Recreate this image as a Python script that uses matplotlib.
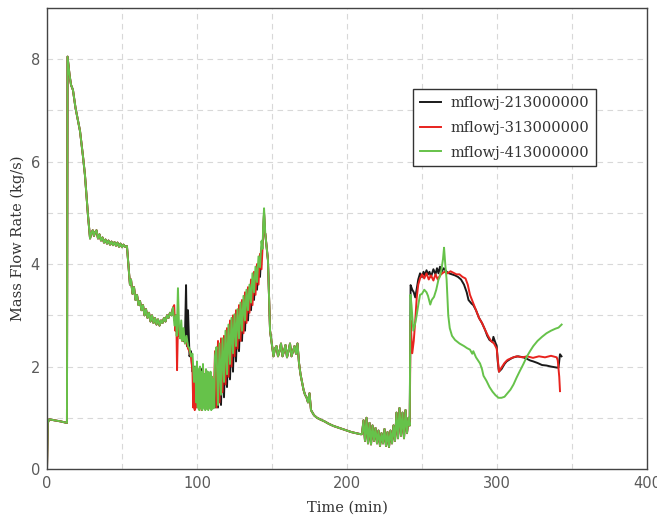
import numpy as np
import matplotlib
matplotlib.use("Agg")
import matplotlib.pyplot as plt
from matplotlib.ticker import MultipleLocator

labels = ["mflowj-213000000", "mflowj-313000000", "mflowj-413000000"]
colors = ["#1a1a1a", "#e8231e", "#66c24a"]

# ---- common start (0 - 84 min) ----
t_start = [0, 0.5, 1.5, 5, 9, 13.3, 13.7, 15, 16, 17.3, 19, 22, 24, 25.3, 27.3, 28.7,
           29.5, 30.5, 31.3, 32, 33, 34, 35, 36, 37, 38, 39, 40, 41, 42, 43, 44, 45, 46,
           47, 48, 49, 50, 51, 52, 53.3, 54.5, 55.3, 56, 57, 58, 59, 60, 61, 62, 63, 64,
           65, 66, 67, 68, 69, 70, 71, 72, 73, 74, 75, 76, 77, 78, 79, 80, 81, 82, 83, 84]
v_start = [0, 0.9, 0.97, 0.95, 0.93, 0.9, 8.05, 7.7, 7.5, 7.4, 7.05, 6.6, 6.1, 5.74, 4.96, 4.5,
           4.6, 4.66, 4.55, 4.62, 4.66, 4.5, 4.58, 4.46, 4.52, 4.42, 4.48, 4.4, 4.46, 4.38, 4.44,
           4.37, 4.43, 4.36, 4.42, 4.34, 4.4, 4.33, 4.38, 4.34, 4.35, 3.9, 3.6, 3.7, 3.42, 3.55,
           3.3, 3.4, 3.2, 3.28, 3.1, 3.2, 3.0, 3.12, 2.95, 3.05, 2.88, 3.0, 2.85, 2.95, 2.82,
           2.92, 2.8, 2.9, 2.85, 2.95, 2.88, 3.0, 2.95, 3.05, 3.0, 3.15]

# ---- divergent section 1 (84 - 145.3 min) ----
t_blk1 = [85, 86, 87, 88, 89, 90, 91, 92, 92.7, 93.3, 94, 95, 96, 97, 98, 99,
          100, 101, 102, 103, 104, 105, 106, 107, 108, 109, 110, 111, 112, 113, 114, 115,
          116, 117, 118, 119, 120, 121, 122, 123, 124, 125, 126, 127, 128, 129, 130, 131,
          132, 133, 134, 135, 136, 137, 138, 139, 140, 141, 142, 143, 144, 144.7, 145.3]
v_blk1 = [2.9, 3.0, 2.8, 2.7, 2.6, 2.65, 2.5, 2.6, 3.59, 2.4, 3.1, 2.2, 2.3, 1.9, 2.0, 1.6,
          1.3, 1.9, 1.2, 1.95, 1.2, 1.85, 1.2, 1.9, 1.2, 1.8, 1.2, 1.7, 1.2, 1.9, 1.2, 2.1,
          1.25, 2.3, 1.4, 2.45, 1.6, 2.6, 1.75, 2.75, 1.9, 2.85, 2.1, 2.95, 2.3, 3.1, 2.5, 3.25,
          2.7, 3.4, 2.9, 3.5, 3.1, 3.65, 3.3, 3.85, 3.5, 4.0, 3.75, 4.3, 4.5, 5.0, 4.6]

t_red1 = [84.8, 85.5, 86.2, 86.7, 87.3, 88, 89, 90, 91, 92, 93, 94, 95, 96, 97, 97.5, 98,
          98.5, 99, 99.5,
          100, 101, 102, 103, 104, 105, 106, 107, 108, 109, 110, 111, 112, 113, 114, 115,
          116, 117, 118, 119, 120, 121, 122, 123, 124, 125, 126, 127, 128, 129, 130, 131,
          132, 133, 134, 135, 136, 137, 138, 139, 140, 141, 142, 143, 144, 144.7, 145.3]
v_red1 = [3.2, 2.7, 3.0, 1.93, 2.8, 2.6, 2.7, 2.5, 2.6, 2.45, 2.5, 2.35, 2.3, 2.2, 1.9, 1.2, 1.9,
          1.15, 1.8, 1.2,
          2.0, 1.2, 1.9, 1.15, 2.0, 1.2, 1.85, 1.2, 1.85, 1.18, 1.8, 1.2, 2.3, 1.2, 2.5, 1.3,
          2.55, 1.5, 2.6, 1.65, 2.75, 1.8, 2.9, 2.0, 3.0, 2.2, 3.1, 2.35, 3.2, 2.5, 3.3, 2.65,
          3.45, 2.85, 3.55, 3.05, 3.7, 3.2, 3.85, 3.4, 4.0, 3.6, 4.2, 3.9, 4.5, 5.0, 4.6]

t_grn1 = [85, 86, 86.5, 87.3, 88, 88.7, 89.5, 90.3, 91, 92, 93, 94, 95, 96, 97, 98, 99,
          99.5, 100, 100.5, 101, 101.5, 102, 102.5, 103, 103.5, 104, 104.5, 105, 105.5,
          106, 106.5, 107, 107.5, 108, 108.5, 109, 109.5, 110, 110.5, 111, 111.5, 112,
          113, 114, 115, 116, 117, 118, 119, 120, 121, 122, 123, 124, 125, 126, 127, 128,
          129, 130, 131, 132, 133, 134, 135, 136, 137, 138, 139, 140, 141, 142, 143, 143.7,
          144.2, 144.7, 145.3]
v_grn1 = [2.8, 3.0, 2.6, 3.53, 2.8, 2.55, 2.9, 2.5, 2.75, 2.45, 2.6, 2.4, 2.35, 2.2, 2.25, 1.7, 2.0,
          1.3, 2.1, 1.2, 1.95, 1.15, 2.0, 1.2, 1.9, 1.15, 2.05, 1.2, 1.85, 1.15, 1.95, 1.18,
          1.9, 1.15, 1.85, 1.2, 1.9, 1.15, 1.8, 1.18, 1.75, 1.2, 2.2,
          2.38, 1.25, 2.45, 1.45, 2.55, 1.7, 2.7, 1.85, 2.82, 2.05, 2.95, 2.26, 3.02, 2.4, 3.12,
          2.55, 3.25, 2.7, 3.38, 2.9, 3.5, 3.1, 3.6, 3.25, 3.82, 3.45, 3.95, 3.65, 4.15, 3.94,
          4.45, 4.3, 4.8, 5.09, 4.7]

# ---- common middle (145.5 - 241.8 min) ----
t_mid = [145.5, 146.5, 147.3, 148.7, 150, 151, 152, 153, 154, 155, 156, 157, 158, 159, 160,
         161, 162, 163, 164, 165, 166, 167, 168, 169, 170, 171, 172, 173, 174, 175, 176, 177,
         178, 180, 182, 185, 188, 191, 195, 199, 203, 206, 209,
         210, 211, 212, 213, 214, 215, 216, 217, 218, 219, 220, 221, 222, 223, 224, 225, 226,
         227, 228, 229, 230, 231, 232, 233, 234, 235, 236, 237, 238, 239, 240, 241, 241.8]
v_mid = [4.6, 4.3, 4.08, 2.7, 2.42, 2.2, 2.35, 2.4, 2.2, 2.3, 2.45, 2.2, 2.3, 2.42, 2.18,
         2.3, 2.45, 2.2, 2.3, 2.4, 2.25, 2.45, 2.07, 1.85, 1.7, 1.55, 1.45, 1.4, 1.3, 1.48, 1.15,
         1.1, 1.05, 1.0, 0.97, 0.93, 0.88, 0.84, 0.8, 0.76, 0.72, 0.7, 0.68,
         0.68, 0.95, 0.55, 1.0, 0.5, 0.9, 0.48, 0.85, 0.55, 0.8, 0.5, 0.75, 0.45, 0.7, 0.5, 0.78,
         0.45, 0.72, 0.43, 0.75, 0.5, 0.85, 0.55, 1.1, 0.6, 1.19, 0.65, 1.1, 0.6, 1.15, 0.7, 1.0,
         0.85]

# ---- divergent section 2 (242 - 343 min) ----
t_blk3 = [242.4, 243.5, 244.5, 245.5, 246.4, 247.5, 248.7, 250, 251, 252, 253, 254, 255, 256,
          257.6, 259, 260, 261, 262, 263, 264.5, 266.4, 268, 270, 272, 274, 276, 278, 279.8,
          281, 283, 284.2, 286, 288, 290, 292, 293.5, 295, 297, 297.6, 298.5, 299.8, 300.5,
          301.3, 303, 305, 306.4, 309, 311, 314, 317.6, 320, 322, 324.2, 327, 330, 333, 336,
          339.8, 341, 342, 343]
v_blk3 = [3.59, 3.5, 3.45, 3.35, 3.5, 3.7, 3.82, 3.75, 3.85, 3.78, 3.88, 3.8, 3.85, 3.75,
          3.9, 3.8, 3.92, 3.82, 3.95, 3.85, 3.92, 3.85, 3.82, 3.8, 3.78, 3.75, 3.7, 3.6, 3.45,
          3.3, 3.23, 3.2, 3.1, 2.95, 2.85, 2.72, 2.6, 2.52, 2.48, 2.58, 2.5, 2.4, 2.1,
          1.9, 1.95, 2.05, 2.1, 2.15, 2.18, 2.2, 2.18, 2.15, 2.12, 2.1, 2.07, 2.03, 2.02, 2.0,
          1.98, 1.98, 2.24, 2.2]

t_red3 = [242.4, 243.5, 244.5, 245.5, 246.5, 247.5, 248.7, 250, 251.5, 253, 254.5, 256, 257.6,
          259, 260.5, 262, 263.5, 265, 267, 269, 271, 273, 275, 277, 279, 280.5, 282, 284, 286,
          288, 290, 292, 294, 296, 298, 299.8, 300.5, 301.3, 303, 305, 307, 310, 313, 317, 320,
          324, 328, 332, 336, 339.8, 340.5, 341.5, 342]
v_red3 = [2.9, 2.26, 2.5, 2.9, 3.35, 3.6, 3.72, 3.8, 3.72, 3.82, 3.7, 3.78, 3.68,
          3.8, 3.7, 3.78, 3.82, 3.85, 3.82, 3.86, 3.83, 3.8, 3.8, 3.75, 3.72, 3.6, 3.4, 3.25, 3.1,
          2.95, 2.85, 2.72, 2.6, 2.5, 2.45, 2.35, 2.15, 1.9, 1.98, 2.07, 2.13, 2.17, 2.2, 2.18, 2.2,
          2.17, 2.2, 2.18, 2.21, 2.18, 2.12, 1.8, 1.52]

t_grn3 = [242.3, 243, 244.2, 245.5, 246.4, 247.5, 248.7, 250, 251.5, 253, 254, 255.5, 256.5,
          258, 259.5, 261, 262, 263, 264, 264.7, 265.5, 266.4, 267.5, 268.5, 270, 272, 275, 278,
          280, 282, 283.5, 284.2, 286, 288.7, 290, 291, 293, 295, 297, 299, 301, 303, 305, 307,
          309, 311, 313, 315, 317.6, 320, 322, 324.2, 327, 330, 333, 336, 339, 341, 343.1]
v_grn3 = [3.4, 3.2, 2.7, 2.85, 2.99, 3.2, 3.4, 3.42, 3.5, 3.45, 3.38, 3.21, 3.3,
          3.36, 3.5, 3.7, 3.76, 3.9, 4.1, 4.32, 4.0, 3.7, 3.0, 2.75, 2.6, 2.52, 2.45, 2.4,
          2.36, 2.33, 2.25, 2.3, 2.18, 2.06, 1.95, 1.82, 1.72, 1.6, 1.51, 1.44, 1.39, 1.39, 1.41, 1.48,
          1.55, 1.65, 1.78, 1.9, 2.05, 2.2, 2.3, 2.4, 2.5, 2.58, 2.65, 2.7, 2.74, 2.76, 2.82]

t_series = [t_start + t_blk1 + t_mid + t_blk3,
            t_start + t_red1 + t_mid + t_red3,
            t_start + t_grn1 + t_mid + t_grn3]
v_series = [v_start + v_blk1 + v_mid + v_blk3,
            v_start + v_red1 + v_mid + v_red3,
            v_start + v_grn1 + v_mid + v_grn3]

fig = plt.figure(figsize=(6.57, 5.23), dpi=100)
ax = fig.add_axes([47/657, 54/523, 600/657, 461/523])

for t, v, c, lab in zip(t_series, v_series, colors, labels):
    ax.plot(t, v, color=c, lw=1.4, label=lab)

ax.set_xlim(0, 400)
ax.set_ylim(0, 9)
ax.xaxis.set_major_locator(MultipleLocator(100))
ax.xaxis.set_minor_locator(MultipleLocator(50))
ax.yaxis.set_major_locator(MultipleLocator(2))
ax.yaxis.set_minor_locator(MultipleLocator(1))
ax.grid(True, which="both", ls=(0, (5, 4)), color="#d8d8d8", lw=0.8)
ax.set_axisbelow(True)
ax.tick_params(which="both", length=0, labelsize=10.5, labelcolor="#5a5a5a", pad=5)
for s in ax.spines.values():
    s.set_color("#444444")
    s.set_linewidth(1.0)

ax.set_xlabel("Time (min)", family="DejaVu Serif", fontsize=10.5, color="#333333", labelpad=7)
ax.set_ylabel("Mass Flow Rate (kg/s)", family="DejaVu Serif", fontsize=10.5, color="#333333", labelpad=4)

leg = ax.legend(loc="upper left", bbox_to_anchor=(0.61, 0.824), borderaxespad=0,
                frameon=True, fancybox=False, edgecolor="#333333", framealpha=1,
                prop={"family": "DejaVu Serif", "size": 10.5},
                handlelength=1.5, handletextpad=0.6, borderpad=0.45, labelspacing=0.75)
leg.get_frame().set_linewidth(1.0)
for txt in leg.get_texts():
    txt.set_color("#333333")

fig.savefig("out.png", dpi=100)
